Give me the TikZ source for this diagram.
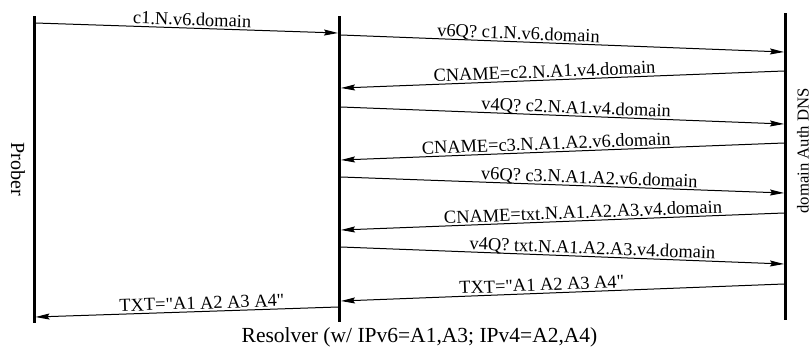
\documentclass[tikz,border=0pt]{standalone}
\usepackage{fontspec}
\setmainfont{Liberation Serif}[Ligatures=TeXOff]
\usetikzlibrary{arrows.meta}
\begin{document}
\begin{tikzpicture}[x=1pt,y=-1pt,
  lifeline/.style={line width=3pt},
  msg/.style={line width=1pt,-{Stealth[length=14pt,width=6pt,inset=2pt]}},
  lbl/.style={sloped,anchor=base,yshift=2.5pt,inner sep=0pt,font=\fontsize{18.4}{20}\selectfont},
  actor/.style={inner sep=0pt}]
\useasboundingbox (0,0) rectangle (812,346);
% lifelines
\coordinate (Ptop) at (34,16);
\coordinate (Pbot) at (34,323);
\coordinate (Rtop) at (339.5,16);
\coordinate (Rbot) at (339.5,322);
\coordinate (Dtop) at (785.5,13);
\coordinate (Dbot) at (785.5,320);
\draw[lifeline] (Ptop) -- (Pbot);
\draw[lifeline] (Rtop) -- (Rbot);
\draw[lifeline] (Dtop) -- (Dbot);
% actor labels
\node[actor,rotate=-90,anchor=base,font=\fontsize{20}{22}\selectfont] (prober) at (11,169) {Prober};
\node[actor,rotate=90,anchor=base,font=\fontsize{16.7}{18}\selectfont] (dns) at (808.5,151) {domain Auth DNS};
\node[actor,anchor=base,font=\fontsize{21.5}{23}\selectfont] (resolver) at (419.5,342) {Resolver (w/ IPv6=A1,A3; IPv4=A2,A4)};
% message end points
\coordinate (p1) at (35.5,23);   \coordinate (r1) at (338,33);
\coordinate (r2) at (341,35);    \coordinate (d2) at (784,52);
\coordinate (d3) at (784,71);    \coordinate (r3) at (341,88);
\coordinate (r4) at (341,107);   \coordinate (d4) at (784,124);
\coordinate (d5) at (784,143);   \coordinate (r5) at (341,160);
\coordinate (r6) at (341,177);   \coordinate (d6) at (784,193);
\coordinate (d7) at (784,213);   \coordinate (r7) at (341,230);
\coordinate (r8) at (341,247);   \coordinate (d8) at (784,264);
\coordinate (d9) at (784,284);   \coordinate (r9) at (341,301);
\coordinate (r10) at (338,307);  \coordinate (p10) at (35.5,317);
% messages
\draw[msg] (p1) -- node[lbl,pos=0.517] {c1.N.v6.domain} (r1);
\draw[msg] (r2) -- node[lbl,pos=0.40] {v6Q? c1.N.v6.domain} (d2);
\draw[msg] (d3) -- node[lbl,pos=0.54] {CNAME=c2.N.A1.v4.domain} (r3);
\draw[msg] (r4) -- node[lbl,pos=0.53] {v4Q? c2.N.A1.v4.domain} (d4);
\draw[msg] (d5) -- node[lbl,pos=0.536] {CNAME=c3.N.A1.A2.v6.domain} (r5);
\draw[msg] (r6) -- node[lbl,pos=0.56] {v6Q? c3.N.A1.A2.v6.domain} (d6);
\draw[msg] (d7) -- node[lbl,pos=0.453] {CNAME=txt.N.A1.A2.A3.v4.domain} (r7);
\draw[msg] (r8) -- node[lbl,pos=0.567] {v4Q? txt.N.A1.A2.A3.v4.domain} (d8);
\draw[msg] (d9) -- node[lbl,pos=0.546] {TXT="A1 A2 A3 A4"} (r9);
\draw[msg] (r10) -- node[lbl,pos=0.449] {TXT="A1 A2 A3 A4"} (p10);
\end{tikzpicture}
\end{document}
